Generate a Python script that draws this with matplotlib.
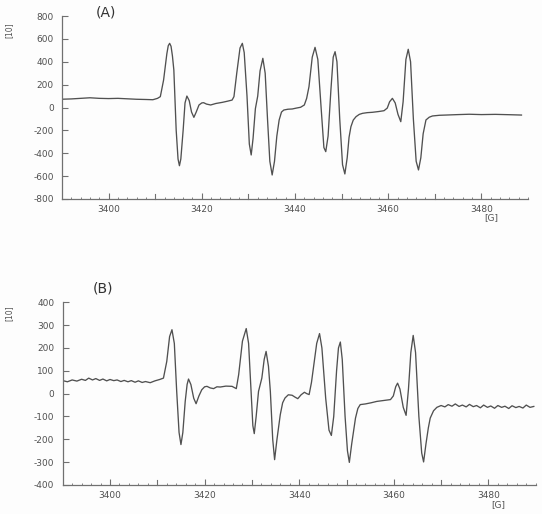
import matplotlib
matplotlib.use("Agg")
import matplotlib.pyplot as plt
from matplotlib.ticker import MultipleLocator

plt.rcParams['axes.unicode_minus'] = False
plt.rcParams['font.family'] = ['DejaVu Sans']

# ---- Panel A data (field in G, intensity in units of 10) ----
field_a = [3389.7, 3392, 3394, 3396, 3398, 3400, 3402, 3404, 3406, 3408, 3409.5, 3410.5,
           3411.1, 3411.8, 3412.5, 3412.8, 3413.1, 3413.4, 3413.7, 3414.0, 3414.5, 3414.9, 3415.2, 3415.5,
           3416.0, 3416.4, 3416.8, 3417.3, 3417.8, 3418.3, 3418.8, 3419.4, 3420.0, 3420.4,
           3421.0, 3421.9, 3423.0, 3424.4, 3425.5, 3426.5, 3426.9, 3427.5, 3428.2, 3428.7,
           3429.1, 3429.7, 3430.2, 3430.6, 3431.0, 3431.5, 3432.0, 3432.5, 3433.1, 3433.6,
           3434.1, 3434.6, 3435.1, 3435.6, 3436.1, 3436.6, 3437.1, 3437.6, 3438.5, 3439.4,
           3440.3, 3441.2, 3442.0, 3442.5, 3443.0, 3443.7, 3444.3, 3444.9, 3445.6, 3446.2,
           3446.6, 3447.1, 3447.7, 3448.2, 3448.6, 3449.0, 3449.6, 3450.2, 3450.7, 3451.2,
           3451.6, 3452.0, 3452.5, 3453.1, 3453.8, 3454.5, 3455.5, 3456.6, 3458.0, 3459.1,
           3459.8, 3460.3, 3460.9, 3461.5, 3462.1, 3462.7, 3463.2, 3463.8, 3464.3, 3464.8,
           3465.4, 3466.0, 3466.5, 3467.0, 3467.5, 3468.1, 3468.8, 3469.5, 3471.0, 3472.4,
           3475.0, 3477.4, 3480.0, 3483.0, 3486.0, 3488.6]
signal_a = [72, 75, 80, 85, 80, 78, 80, 76, 72, 70, 68, 80,
            95, 240, 470, 540, 561, 535, 450, 328, -197, -450, -509, -450,
            -197, 40, 100, 60, -40, -86, -40, 22, 40, 42,
            30, 22, 35, 45, 55, 65, 95, 300, 520, 561,
            480, 100, -320, -415, -270, -10, 100, 320, 430, 300,
            -100, -470, -590, -470, -250, -109, -40, -22, -15, -13,
            -5, 2, 22, 80, 182, 440, 526, 420, 0, -350,
            -386, -250, 150, 440, 488, 400, -100, -500, -581, -440,
            -260, -168, -110, -80, -60, -51, -45, -42, -35, -28,
            -5, 50, 80, 40, -60, -124, 50, 420, 509, 400,
            -100, -470, -546, -440, -230, -109, -85, -74, -68, -66,
            -62, -59, -62, -60, -63, -66]

# ---- Panel B data ----
field_b = [3390, 3391, 3392, 3393, 3394, 3394.8, 3395.5, 3396.3, 3397, 3397.8, 3398.5,
           3399.3, 3400, 3400.8, 3401.5, 3402.3, 3403, 3403.8, 3404.5, 3405.3,
           3406, 3406.8, 3407.5, 3408.5, 3409.5, 3410.5, 3411.3, 3412.0, 3412.6, 3413.1, 3413.6,
           3414.1, 3414.6, 3415.0, 3415.4, 3415.9, 3416.3, 3416.6, 3417.1, 3417.7, 3418.2,
           3418.8, 3419.4, 3420.0, 3420.5, 3421.2, 3421.9, 3422.6, 3423.3, 3424.5, 3425.8,
           3426.7, 3427.2, 3428.0, 3428.8, 3429.3, 3429.8, 3430.2, 3430.5, 3430.9, 3431.4,
           3432.1, 3432.6, 3433.0, 3433.5, 3433.9, 3434.4, 3434.8, 3435.3, 3436.0, 3436.5,
           3437.0, 3437.7, 3438.5, 3439.1, 3439.7, 3440.4, 3441.1, 3441.6, 3442.1, 3442.6,
           3443.0, 3443.7, 3444.3, 3444.8, 3445.6, 3446.3, 3446.8, 3447.3, 3447.9, 3448.3,
           3448.7, 3449.1, 3449.7, 3450.2, 3450.6, 3451.1, 3451.9, 3452.4, 3452.9, 3454.0,
           3455.2, 3456.4, 3457.8, 3459.3, 3459.9, 3460.4, 3460.8, 3461.3, 3462.0, 3462.6,
           3463.1, 3463.6, 3464.1, 3464.6, 3465.3, 3465.9, 3466.3, 3466.8, 3467.3, 3467.7,
           3468.4, 3469.1, 3470.0, 3470.8, 3471.5, 3472.3, 3473.0, 3473.8, 3474.5, 3475.3,
           3476.0, 3476.8, 3477.5, 3478.3, 3479.0, 3479.8, 3480.5, 3481.3, 3482.0, 3482.8,
           3483.5, 3484.3, 3485.0, 3485.8, 3486.5, 3487.3, 3488.0, 3488.8, 3489.6]
signal_b = [57, 52, 60, 55, 63, 58, 68, 60, 66, 58, 64,
            56, 62, 57, 60, 53, 58, 52, 57, 50,
            56, 49, 53, 48, 56, 62, 68, 141, 250, 280, 220,
            10, -170, -223, -170, -34, 40, 64, 40, -20, -44,
            -10, 17, 30, 32, 25, 22, 30, 29, 33, 32,
            22, 83, 230, 285, 220, 20, -140, -175, -100, 10,
            68, 150, 185, 120, 10, -200, -289, -200, -92, -40,
            -19, -5, -7, -15, -22, -5, 6, 0, -4, 50,
            112, 220, 263, 200, -20, -160, -183, -100, 100, 200,
            226, 150, -100, -250, -301, -220, -107, -65, -48, -45,
            -40, -34, -30, -26, -10, 30, 46, 20, -60, -95,
            20, 180, 255, 180, -100, -260, -299, -220, -150, -107,
            -75, -60, -52, -58, -48, -55, -45, -56, -50, -58,
            -47, -57, -52, -62, -50, -60, -54, -64, -52, -60,
            -55, -65, -53, -61, -56, -63, -50, -60, -56]

xticks = [3400, 3420, 3440, 3460, 3480]
yticks_a = [-800, -600, -400, -200, 0, 200, 400, 600, 800]
yticks_b = [-400, -300, -200, -100, 0, 100, 200, 300, 400]

W, H = 542, 514
fig = plt.figure(figsize=(W / 100, H / 100), dpi=100)
fig.patch.set_facecolor('#fdfdfd')

ax_color = '#707070'
txt_color = '#505050'
line_color = '#505050'


def style(ax, yticks):
    ax.set_facecolor('#fdfdfd')
    for s in ('top', 'right'):
        ax.spines[s].set_visible(False)
    for s in ('left', 'bottom'):
        ax.spines[s].set_color(ax_color)
        ax.spines[s].set_linewidth(0.9)
    ax.set_xlim(3390, 3490)
    ax.set_ylim(yticks[0], yticks[-1])
    ax.set_xticks(xticks)
    ax.set_yticks(yticks)
    ax.xaxis.set_minor_locator(MultipleLocator(2))
    ax.tick_params(axis='both', which='major', direction='in', length=4,
                   width=0.8, color=ax_color, labelsize=6.5, labelcolor=txt_color)
    ax.tick_params(axis='y', which='major', pad=6)
    ax.tick_params(axis='x', which='major', pad=4)
    ax.tick_params(axis='x', which='minor', direction='in', length=1.5,
                   width=0.6, color=ax_color)
    # 10 G ticks
    for xv in [3410, 3430, 3450, 3470]:
        ax.plot([xv, xv], [0, 0.025], transform=ax.get_xaxis_transform(),
                color=ax_color, lw=0.8, clip_on=False)


# Panel A
axA = fig.add_axes([62 / W, 1 - 199 / H, 466 / W, 183 / H])
style(axA, yticks_a)
axA.plot(field_a, signal_a, color=line_color, lw=0.95)
fig.text(106 / W, 1 - 12 / H, '(A)', fontsize=10, color='#333333', ha='center', va='center')
fig.text(9 / W, 1 - 30 / H, '[10]', fontsize=5.5, color=txt_color, rotation=90,
         ha='center', va='center')
fig.text(491 / W, 1 - 218 / H, '[G]', fontsize=6.5, color=txt_color, ha='center', va='center')

# Panel B
axB = fig.add_axes([62.7 / W, 1 - 485 / H, 473 / W, 182.7 / H])
style(axB, yticks_b)
axB.plot(field_b, signal_b, color=line_color, lw=0.95)
fig.text(103 / W, 1 - 288 / H, '(B)', fontsize=10, color='#333333', ha='center', va='center')
fig.text(9 / W, 1 - 313 / H, '[10]', fontsize=5.5, color=txt_color, rotation=90,
         ha='center', va='center')
fig.text(498 / W, 1 - 505 / H, '[G]', fontsize=6.5, color=txt_color, ha='center', va='center')

fig.savefig('out.png', dpi=100, facecolor=fig.get_facecolor())
